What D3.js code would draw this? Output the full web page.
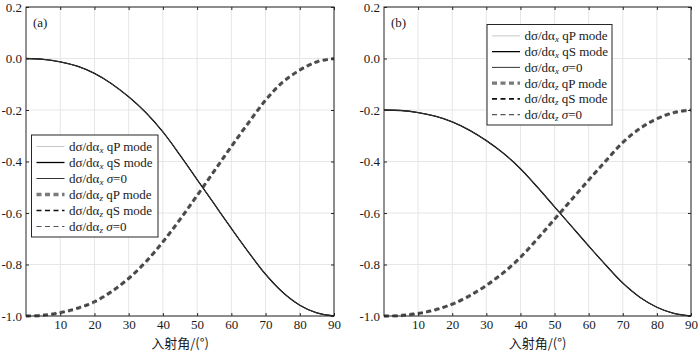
<!DOCTYPE html>
<html><head><meta charset="utf-8">
<script src="https://cdn.jsdelivr.net/npm/d3@7"></script>
<style>
body{margin:0;background:#fff;}
svg{display:block;}
text{font-family:"Liberation Serif","Times New Roman","DejaVu Serif",serif;fill:#1a1a1a;}
</style></head>
<body><svg id="c" width="700" height="352"></svg>
<script>
// ---- data ----
const angles = [0,5,10,15,20,25,30,35,40,45,50,55,60,65,70,75,80,85,90];
// panel (a)
const aX = [0,-0.003,-0.013,-0.03,-0.058,-0.098,-0.149,-0.21,-0.285,-0.375,-0.47,-0.565,-0.66,-0.752,-0.838,-0.908,-0.958,-0.988,-1.0];
const aZ = [-1.0,-0.997,-0.987,-0.97,-0.945,-0.905,-0.854,-0.79,-0.712,-0.625,-0.532,-0.437,-0.342,-0.25,-0.162,-0.092,-0.045,-0.013,0];
// panel (b)
const bX = [-0.2,-0.202,-0.21,-0.224,-0.246,-0.278,-0.319,-0.368,-0.428,-0.5,-0.576,-0.652,-0.728,-0.802,-0.872,-0.927,-0.966,-0.99,-1.0];
const bZ = [-1.0,-0.998,-0.99,-0.976,-0.954,-0.922,-0.881,-0.832,-0.772,-0.7,-0.624,-0.548,-0.472,-0.398,-0.326,-0.272,-0.234,-0.21,-0.2];
const xTicks = [10,20,30,40,50,60,70,80,90];
const yTicks = [0.2,0.0,-0.2,-0.4,-0.6,-0.8,-1.0];
const xTitle = "入射角/(°)";
const legendItems = [
  {sub:"x", tail:" qP mode", sigma:false},
  {sub:"x", tail:" qS mode", sigma:false},
  {sub:"x", tail:"", sigma:true},
  {sub:"z", tail:" qP mode", sigma:false},
  {sub:"z", tail:" qS mode", sigma:false},
  {sub:"z", tail:"", sigma:true}
];
const styles = [
  {color:"#c8c8c8", w:1.0, dash:null},
  {color:"#000000", w:1.3, dash:null},
  {color:"#333333", w:1.0, dash:null},
  {color:"#7a7a7a", w:3.4, dash:"5,3.5"},
  {color:"#111111", w:1.6, dash:"5,3.5"},
  {color:"#555555", w:1.2, dash:"5,3.5"}
];
const serif = "Liberation Serif, Times New Roman, DejaVu Serif, serif";

const svg = d3.select("#c");
const panels = [
  {label:"(a)", x0:26, x1:334, xs:aX, zs:aZ, leg:{x:31.5, y:135, w:126.5, h:102}},
  {label:"(b)", x0:384, x1:691, xs:bX, zs:bZ, leg:{x:487, y:24.5, w:125, h:100.5}}
];
const y0 = 7, y1 = 316;

panels.forEach(p => {
  const x = d3.scaleLinear().domain([0,90]).range([p.x0,p.x1]);
  const y = d3.scaleLinear().domain([-1,0.2]).range([y1,y0]);
  const g = svg.append("g");
  g.selectAll(".gx").data(xTicks).join("line")
    .attr("x1",d=>x(d)).attr("x2",d=>x(d)).attr("y1",y0).attr("y2",y1)
    .attr("stroke","#e6e6e6").attr("stroke-width",1);
  g.selectAll(".gy").data(yTicks).join("line")
    .attr("y1",d=>y(d)).attr("y2",d=>y(d)).attr("x1",p.x0).attr("x2",p.x1)
    .attr("stroke","#e6e6e6").attr("stroke-width",1);

  const line = d3.line().x((d,i)=>x(angles[i])).y(d=>y(d)).curve(d3.curveCatmullRom.alpha(0.5));
  const seriesX = [p.xs,p.xs,p.xs], seriesZ = [p.zs,p.zs,p.zs];
  const all = [...seriesZ.map((s,i)=>({s, st:styles[3+i]})), ...seriesX.map((s,i)=>({s, st:styles[i]}))];
  all.forEach(o => {
    g.append("path").attr("d", line(o.s)).attr("fill","none")
      .attr("stroke",o.st.color).attr("stroke-width",o.st.w)
      .attr("stroke-dasharray",o.st.dash);
  });

  const tl = 3;
  const axB = g.append("g").attr("transform",`translate(0,${y1})`)
    .call(d3.axisBottom(x).tickValues(xTicks).tickSize(-tl).tickPadding(4).tickFormat(d3.format("d")));
  const axT = g.append("g").attr("transform",`translate(0,${y0})`)
    .call(d3.axisTop(x).tickValues(xTicks).tickSize(-tl).tickFormat(""));
  const axL = g.append("g").attr("transform",`translate(${p.x0},0)`)
    .call(d3.axisLeft(y).tickValues(yTicks).tickSize(-tl).tickPadding(4).tickFormat(d=>d3.format(".1f")(d).replace("−","-")));
  const axR = g.append("g").attr("transform",`translate(${p.x1},0)`)
    .call(d3.axisRight(y).tickValues(yTicks).tickSize(-tl).tickFormat(""));
  [axB,axT,axL,axR].forEach(a=>{
    a.attr("font-family",serif);
    a.select(".domain").remove();
    a.selectAll(".tick line").attr("stroke","#262626");
    a.selectAll("text").attr("font-family",serif).attr("font-size",13).attr("fill","#1a1a1a");
  });
  g.append("rect").attr("x",p.x0).attr("y",y0).attr("width",p.x1-p.x0).attr("height",y1-y0)
    .attr("fill","none").attr("stroke","#262626").attr("stroke-width",1);

  g.append("text").attr("x",(p.x0+p.x1)/2).attr("y",348).attr("text-anchor","middle")
    .attr("font-size",13).style("font-family","'Noto Sans CJK SC','Liberation Serif',serif").text(xTitle);
  g.append("text").attr("x",p.x0+7).attr("y",27).attr("font-size",13).text(p.label);

  const L = p.leg;
  g.append("rect").attr("x",L.x).attr("y",L.y).attr("width",L.w).attr("height",L.h)
    .attr("fill","#fff").attr("stroke","#262626").attr("stroke-width",1);
  const rowH = (L.h-6)/6;
  legendItems.forEach((it,i)=>{
    const cy = L.y + 3 + rowH*(i+0.5) + 0.5;
    const st = styles[i];
    g.append("line").attr("x1",L.x+5).attr("x2",L.x+33).attr("y1",cy).attr("y2",cy)
      .attr("stroke",st.color).attr("stroke-width",st.w).attr("stroke-dasharray",st.dash);
    const t = g.append("text").attr("x",L.x+37.5).attr("y",cy+4.5).attr("font-size",13);
    t.append("tspan").text("dσ/dα");
    t.append("tspan").attr("font-style","italic").attr("font-size",9).attr("dy",2).text(it.sub);
    if (it.sigma) {
      t.append("tspan").attr("dy",-2).text(" ");
      t.append("tspan").attr("font-style","italic").text("σ");
      t.append("tspan").text("=0");
    } else {
      t.append("tspan").attr("dy",-2).text(it.tail);
    }
  });
});
</script></body></html>
